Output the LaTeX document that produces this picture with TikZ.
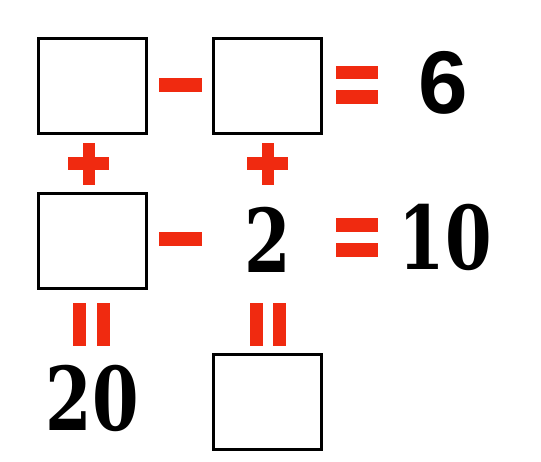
\documentclass[tikz,border=0pt]{standalone}
\usepackage{fontspec}
\setsansfont{Liberation Sans}
\newfontfamily\slabfont{DejaVu Serif}
\definecolor{opred}{RGB}{240,42,16}
\tikzset{
  blank/.style={draw=black, line width=3pt, fill=white, inner sep=0pt, minimum width=108pt, minimum height=95pt},
  hbar/.style={fill=opred, inner sep=0pt, minimum width=42pt, minimum height=13.5pt},
  vbar/.style={fill=opred, inner sep=0pt, minimum width=13pt, minimum height=43pt},
  sansnum/.style={inner sep=0pt, font=\sffamily\bfseries\fontsize{89}{89}\selectfont},
  serifnum/.style={inner sep=0pt, font=\slabfont\bfseries\fontsize{88}{88}\selectfont, xscale=0.76, transform shape}
}
\begin{document}
\begin{tikzpicture}[x=1pt,y=-1pt]
\useasboundingbox (0,0) rectangle (541,461);
% boxes
\node[blank] (A) at (92.5,86) {};
\node[blank] (B) at (267.5,86) {};
\node[blank] (C) at (92.5,241) {};
\node[blank] (D) at (267.5,402) {};
% minus signs
\node[hbar, minimum width=43pt, minimum height=14pt] (m1) at (180.5,85) {};
\node[hbar, minimum width=43pt, minimum height=14pt] (m2) at (180.5,238.5) {};
% equals signs (horizontal)
\node[hbar] (e1a) at (357,72.5) {};
\node[hbar] (e1b) at (357,97) {};
\node[hbar] (e2a) at (357,225) {};
\node[hbar] (e2b) at (357,250) {};
% plus signs
\node[hbar, minimum width=41pt, minimum height=13pt] (p1h) at (88.5,163.5) {};
\node[vbar, minimum width=12pt, minimum height=42pt] (p1v) at (88.5,164) {};
\node[hbar, minimum width=41pt, minimum height=13pt] (p2h) at (267.5,163.5) {};
\node[vbar, minimum width=12pt, minimum height=42pt] (p2v) at (267.5,164) {};
% vertical equals signs
\node[vbar] (v1a) at (79.5,324.5) {};
\node[vbar] (v1b) at (103.5,324.5) {};
\node[vbar] (v2a) at (256,324.5) {};
\node[vbar] (v2b) at (279.5,324.5) {};
% numbers
\node[sansnum] (six) at (443,83) {6};
\node[serifnum] (two) at (267.5,240) {2};
\node[serifnum] (ten) at (445,237.5) {10};
\node[serifnum] (twenty) at (92,398) {20};
\end{tikzpicture}
\end{document}
